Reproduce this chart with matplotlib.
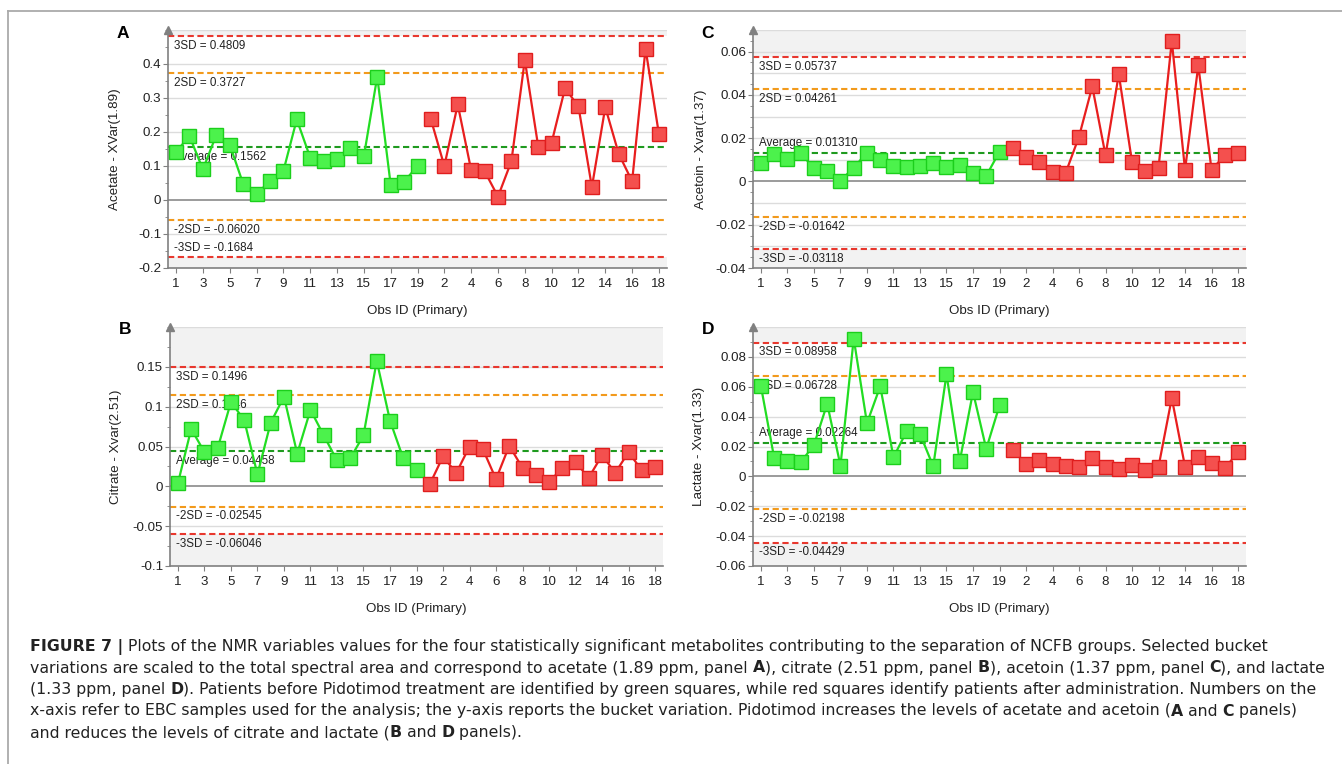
import matplotlib.pyplot as plt
import matplotlib.ticker as ticker
from matplotlib.lines import Line2D
import numpy as np

plt.rcParams['font.family'] = ['Liberation Sans', 'DejaVu Sans']
plt.rcParams['axes.unicode_minus'] = False

W, H = 1342, 764

# samples: 19 before treatment (green), 18 after (red)
green_ids = list(range(1, 20))
red_ids = list(range(1, 19))

acetate_green = [0.142, 0.188, 0.090, 0.191, 0.163, 0.048, 0.017, 0.056, 0.085, 0.237,
                 0.125, 0.115, 0.120, 0.152, 0.128, 0.363, 0.045, 0.054, 0.100]
acetate_red = [0.237, 0.100, 0.281, 0.088, 0.085, 0.010, 0.114, 0.412, 0.157, 0.169,
               0.329, 0.275, 0.038, 0.273, 0.136, 0.055, 0.445, 0.193]

citrate_green = [0.004, 0.072, 0.043, 0.048, 0.106, 0.083, 0.015, 0.080, 0.1125, 0.041,
                 0.096, 0.064, 0.0325, 0.035, 0.064, 0.1575, 0.0825, 0.035, 0.020]
citrate_red = [0.0025, 0.0375, 0.0167, 0.050, 0.047, 0.009, 0.051, 0.023, 0.0146, 0.0054,
               0.023, 0.030, 0.011, 0.039, 0.017, 0.043, 0.020, 0.024]

acetoin_green = [0.0084, 0.0126, 0.0103, 0.0130, 0.0061, 0.0049, 0.0003, 0.0064, 0.0133, 0.0099,
                 0.0072, 0.0067, 0.0072, 0.0087, 0.0067, 0.0077, 0.0037, 0.0026, 0.0138]
acetoin_red = [0.0153, 0.0113, 0.0090, 0.0046, 0.0041, 0.0207, 0.0439, 0.0121, 0.0496, 0.0090,
               0.0049, 0.0064, 0.0649, 0.0054, 0.0536, 0.0054, 0.0121, 0.0133]

lactate_green = [0.0603, 0.0123, 0.0101, 0.0094, 0.0211, 0.0486, 0.0072, 0.0923, 0.0356, 0.0603,
                 0.0128, 0.0303, 0.0285, 0.0067, 0.0684, 0.0101, 0.0565, 0.0184, 0.0475]
lactate_red = [0.0177, 0.0083, 0.0112, 0.0083, 0.0072, 0.0065, 0.0123, 0.0065, 0.0049, 0.0076,
               0.0045, 0.0065, 0.0524, 0.0065, 0.0132, 0.0090, 0.0056, 0.0161]

# control limits: 3SD, 2SD, average, -2SD, -3SD
acetate_limits = [0.4809, 0.3727, 0.1562, -0.06020, -0.1684]
citrate_limits = [0.1496, 0.1146, 0.04458, -0.02545, -0.06046]
acetoin_limits = [0.05737, 0.04261, 0.01310, -0.01642, -0.03118]
lactate_limits = [0.08958, 0.06728, 0.02264, -0.02198, -0.04429]

acetate_limit_labels = ['3SD = 0.4809', '2SD = 0.3727', 'Average = 0.1562', '-2SD = -0.06020', '-3SD = -0.1684']
citrate_limit_labels = ['3SD = 0.1496', '2SD = 0.1146', 'Average = 0.04458', '-2SD = -0.02545', '-3SD = -0.06046']
acetoin_limit_labels = ['3SD = 0.05737', '2SD = 0.04261', 'Average = 0.01310', '-2SD = -0.01642', '-3SD = -0.03118']
lactate_limit_labels = ['3SD = 0.08958', '2SD = 0.06728', 'Average = 0.02264', '-2SD = -0.02198', '-3SD = -0.04429']

acetate_yticks = [-0.2, -0.1, 0, 0.1, 0.2, 0.3, 0.4]
citrate_yticks = [-0.1, -0.05, 0, 0.05, 0.1, 0.15]
acetoin_yticks = [-0.04, -0.02, 0, 0.02, 0.04, 0.06]
lactate_yticks = [-0.06, -0.04, -0.02, 0, 0.02, 0.04, 0.06, 0.08]

limit_colors = ['#e8382e', '#f29a1c', '#1f9a1f', '#f29a1c', '#e8382e']

fig = plt.figure(figsize=(W / 100, H / 100), dpi=100)


def box(l, r, t, b):
    return [l / W, 1 - b / H, (r - l) / W, (b - t) / H]


# letter, rect(px), ylabel, data, limits, labels, ylim, yticks, minor, grid step, label sides, ylabel x(px)
panels = [
    ('A', (168, 667, 30, 268), 'Acetate - XVar(1.89)', acetate_green, acetate_red,
     acetate_limits, acetate_limit_labels, (-0.2, 0.5), acetate_yticks, 0.05, 0.1,
     [-1, -1, -1, -1, 1], 121),
    ('B', (170, 663, 327, 566), 'Citrate - Xvar(2.51)', citrate_green, citrate_red,
     citrate_limits, citrate_limit_labels, (-0.1, 0.2), citrate_yticks, 0.025, 0.05,
     [-1, -1, -1, -1, -1], 122),
    ('C', (753, 1246, 30, 268), 'Acetoin - Xvar(1.37)', acetoin_green, acetoin_red,
     acetoin_limits, acetoin_limit_labels, (-0.04, 0.07), acetoin_yticks, 0.005, 0.01,
     [-1, -1, 1, -1, -1], 707),
    ('D', (753, 1246, 327, 566), 'Lactate - Xvar(1.33)', lactate_green, lactate_red,
     lactate_limits, lactate_limit_labels, (-0.06, 0.1), lactate_yticks, 0.01, 0.02,
     [-1, -1, 1, -1, -1], 705),
]

all_ids = green_ids + red_ids
x_all = np.arange(len(all_ids))
x_green = x_all[:len(green_ids)]
x_red = x_all[len(green_ids):]

for letter, rect, ylab, g_vals, r_vals, limits, lab, ylim, yticks, minor, gstep, sides, ylx in panels:
    l, r, t, b = rect
    ax = fig.add_axes(box(l, r, t, b))
    ax.set_xlim(-0.6, len(all_ids) - 0.4)
    ax.set_ylim(*ylim)

    # shaded zones outside 3SD
    ax.axhspan(limits[0], ylim[1], color='#f2f2f2', zorder=0, lw=0)
    ax.axhspan(ylim[0], limits[4], color='#f2f2f2', zorder=0, lw=0)

    # grid
    for gy in np.arange(ylim[0], ylim[1] + 1e-9, gstep):
        if abs(gy) > 1e-9:
            ax.axhline(gy, color='#dcdcdc', lw=1, zorder=0.5)
    ax.axhline(0, color='#808080', lw=1.1, zorder=1)

    for val, txt, c, s in zip(limits, lab, limit_colors, sides):
        ax.axhline(val, color=c, lw=1.5, ls=(0, (3, 1.7)), zorder=2)
        ax.annotate(txt, xy=(0, val), xycoords=('axes fraction', 'data'),
                    xytext=(4.5, 7 * s), textcoords='offset points',
                    fontsize=8.4, color='#222222', va='center', ha='left', zorder=3)

    ax.plot(x_green, g_vals, '-', color='#22dd22', lw=1.6, marker='s', ms=9.8,
            mfc='#4cf24c', mec='#1ccf1c', mew=1, zorder=4)
    ax.plot(x_red, r_vals, '-', color='#e81e1e', lw=1.6, marker='s', ms=9.8,
            mfc='#f4504e', mec='#e01e1e', mew=1, zorder=4)

    ax.set_xticks(x_all[::2])
    ax.set_xticklabels([str(i) for i in all_ids[::2]])
    ax.set_yticks(yticks)
    ax.set_yticklabels(['{:g}'.format(v) for v in yticks])
    ax.yaxis.set_minor_locator(ticker.MultipleLocator(minor))

    for sp in ['top', 'right']:
        ax.spines[sp].set_visible(False)
    for sp in ['left', 'bottom']:
        ax.spines[sp].set_color('#808080')
        ax.spines[sp].set_linewidth(1.2)
    ax.tick_params(axis='both', colors='#808080', labelcolor='#222222', labelsize=9.6)
    ax.tick_params(axis='x', length=3.5, pad=4)
    ax.tick_params(axis='y', which='major', length=3.5, pad=1.5)
    ax.tick_params(axis='y', which='minor', length=2.5, color='#808080')
    ax.plot(0, 1, marker='^', ms=6, color='#808080', transform=ax.transAxes,
            clip_on=False, zorder=5)

    ax.set_xlabel('Obs ID (Primary)', fontsize=9.6, color='#222222')
    ax.xaxis.set_label_coords(0.5, -37 / (b - t))
    ax.set_ylabel(ylab, fontsize=9.6, color='#222222')
    ax.yaxis.set_label_coords((ylx - l) / (r - l), 0.5)

    fig.text((l - 45) / W, 1 - (t + 3) / H, letter, fontsize=12.5, fontweight='bold',
             ha='center', va='center')

# frame around figure
fig.add_artist(Line2D([8 / W, 1], [1 - 11 / H, 1 - 11 / H], color='#aaaaaa', lw=1.3))
fig.add_artist(Line2D([8 / W, 8 / W], [1 - 11 / H, 0], color='#aaaaaa', lw=1.3))

caption = [
    [('FIGURE 7 |', True), (' Plots of the NMR variables values for the four statistically significant metabolites contributing to the separation of NCFB groups. Selected bucket', False)],
    [('variations are scaled to the total spectral area and correspond to acetate (1.89 ppm, panel ', False), ('A', True),
     ('), citrate (2.51 ppm, panel ', False), ('B', True), ('), acetoin (1.37 ppm, panel ', False), ('C', True), ('), and lactate', False)],
    [('(1.33 ppm, panel ', False), ('D', True),
     ('). Patients before Pidotimod treatment are identified by green squares, while red squares identify patients after administration. Numbers on the', False)],
    [('x-axis refer to EBC samples used for the analysis; the y-axis reports the bucket variation. Pidotimod increases the levels of acetate and acetoin (', False),
     ('A', True), (' and ', False), ('C', True), (' panels)', False)],
    [('and reduces the levels of citrate and lactate (', False), ('B', True), (' and ', False), ('D', True), (' panels).', False)],
]
baselines = [651, 672.5, 694, 715.5, 737]

renderer = fig.canvas.get_renderer()
for parts, yb in zip(caption, baselines):
    x = 30
    for s, bold in parts:
        t = fig.text(x / W, 1 - yb / H, s, fontsize=11.3, color='#222222', family='DejaVu Sans',
                     fontweight='bold' if bold else 'normal', va='baseline', ha='left')
        x += t.get_window_extent(renderer=renderer).width

fig.savefig('out.png', dpi=100)
